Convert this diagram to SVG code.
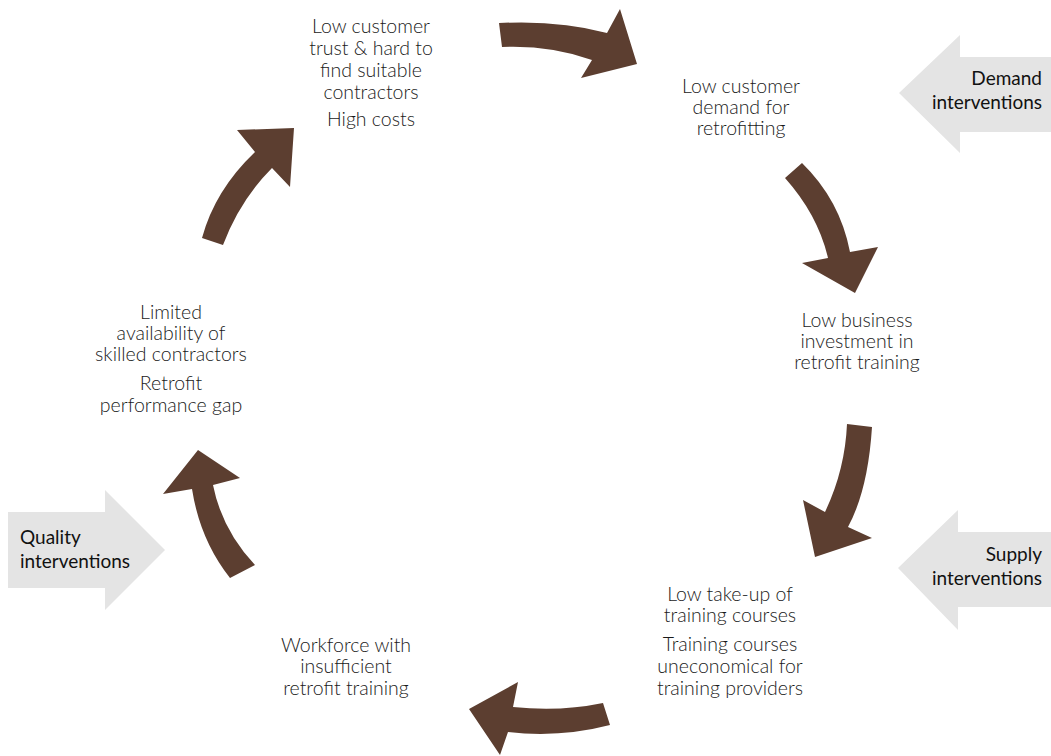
<svg xmlns="http://www.w3.org/2000/svg" width="1051" height="756" viewBox="0 0 1051 756">
  <style>
    .lbl { font-family: Lato, "Open Sans", "Liberation Sans", sans-serif; font-weight: 300; font-size: 19.5px; fill: #1a1a1a; text-anchor: middle; }
    .side { font-family: Lato, "Open Sans", "Liberation Sans", sans-serif; font-weight: 400; font-size: 19px; fill: #111; }
    .cyc { fill: #5c3e30; }
    .intv { fill: #e4e4e4; }
  </style>
  <rect width="1051" height="756" fill="#ffffff"/>

  <!-- cycle connectors: curved block arrows -->
  <g id="connectors">
    <path class="cyc" d="M499,23 Q560,20 607,33 L620,9 L637,64 L581,78 L592,60 Q550,45 502,47 Z"/>
    <path class="cyc" d="M785,178 L802,163 Q840,200 850,252 L878,247 L855,293 L802,263 L828,258 Q818,215 785,178 Z"/>
    <path class="cyc" d="M847,424 L872,427 Q868,490 848,527 L872,538 L815,557 L803,500 L825,512 Q845,470 847,424 Z"/>
    <path class="cyc" d="M603,703 Q560,712 513,707 L518,682 L469,709 L500,755 L508,732 Q560,738 610,725 Z"/>
    <path class="cyc" d="M230,578 Q200,540 192,489 L163,494 L198,450 L240,478 L213,485 Q222,530 255,565 Z"/>
    <path class="cyc" d="M202,238 Q215,190 255,152 L237,130 L294,128 L290,187 L272,168 Q240,200 223,245 Z"/>
  </g>

  <!-- cycle stages -->
  <g id="node-trust">
    <text class="lbl" x="371" y="33">Low customer</text>
    <text class="lbl" x="371" y="55">trust &amp; hard to</text>
    <text class="lbl" x="371" y="77">find suitable</text>
    <text class="lbl" x="371" y="99">contractors</text>
    <text class="lbl" x="371" y="126">High costs</text>
  </g>
  <g id="node-demand">
    <text class="lbl" x="741" y="93">Low customer</text>
    <text class="lbl" x="741" y="114">demand for</text>
    <text class="lbl" x="741" y="135">retrofitting</text>
  </g>
  <g id="node-investment">
    <text class="lbl" x="857" y="327">Low business</text>
    <text class="lbl" x="857" y="348">investment in</text>
    <text class="lbl" x="857" y="369">retrofit training</text>
  </g>
  <g id="node-takeup">
    <text class="lbl" x="730" y="601">Low take-up of</text>
    <text class="lbl" x="730" y="622">training courses</text>
    <text class="lbl" x="730" y="651">Training courses</text>
    <text class="lbl" x="730" y="673">uneconomical for</text>
    <text class="lbl" x="730" y="695">training providers</text>
  </g>
  <g id="node-workforce">
    <text class="lbl" x="346" y="652">Workforce with</text>
    <text class="lbl" x="346" y="673">insufficient</text>
    <text class="lbl" x="346" y="695">retrofit training</text>
  </g>
  <g id="node-availability">
    <text class="lbl" x="171" y="319">Limited</text>
    <text class="lbl" x="171" y="340">availability of</text>
    <text class="lbl" x="171" y="361">skilled contractors</text>
    <text class="lbl" x="171" y="390">Retrofit</text>
    <text class="lbl" x="171" y="412">performance gap</text>
  </g>

  <!-- intervention arrows -->
  <g id="demand-interventions">
    <path class="intv" d="M1051,57 L960,57 L960,35 L899,93 L960,153 L960,132 L1051,132 Z"/>
    <text class="side" x="1042" y="85" text-anchor="end">Demand</text>
    <text class="side" x="1042" y="109" text-anchor="end">interventions</text>
  </g>
  <g id="supply-interventions">
    <path class="intv" d="M1051,532 L958,532 L958,510 L898,568 L958,630 L958,607 L1051,607 Z"/>
    <text class="side" x="1042" y="561" text-anchor="end">Supply</text>
    <text class="side" x="1042" y="585" text-anchor="end">interventions</text>
  </g>
  <g id="quality-interventions">
    <path class="intv" d="M8,512 L105,512 L105,490 L165,550 L105,610 L105,588 L8,588 Z"/>
    <text class="side" x="20" y="544">Quality</text>
    <text class="side" x="20" y="568">interventions</text>
  </g>
</svg>
